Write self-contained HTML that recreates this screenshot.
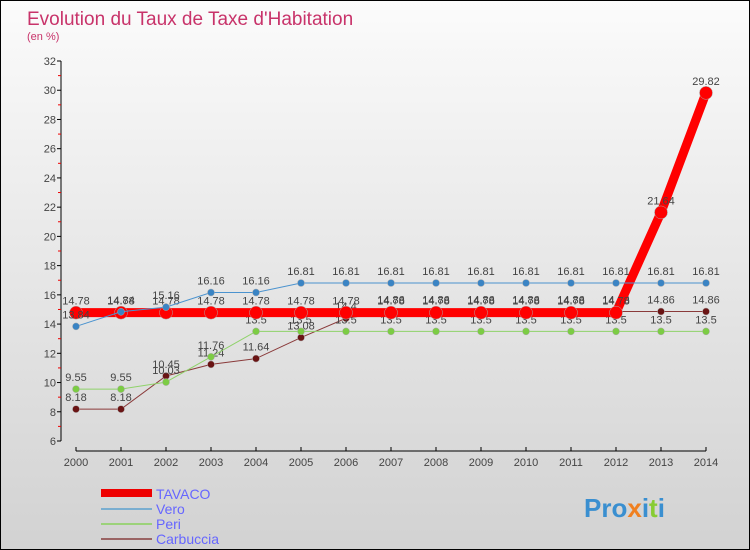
<!DOCTYPE html>
<html><head><meta charset="utf-8"><style>
body{margin:0}
#c{width:748px;height:548px;border:1px solid #000;background:linear-gradient(#fbfbfb,#d2d2d2);position:relative;overflow:hidden;font-family:"Liberation Sans",sans-serif}
</style></head><body>
<div id="c">
<svg id="s" width="748" height="548">
<text x="26" y="24" font-size="19" fill="#c8336a">Evolution du Taux de Taxe d'Habitation</text>
<text x="26" y="39" font-size="11" fill="#c8336a">(en %)</text>
<g id="axes"></g><g id="series"></g>
<g>
<rect x="100" y="488" width="51" height="8" fill="#e00"/>
<text x="155" y="498" font-size="14" fill="#66f">TAVACO</text>
<rect x="100" y="507" width="51" height="2" fill="#7aaed0"/>
<text x="155" y="513" font-size="14" fill="#66f">Vero</text>
<rect x="100" y="522" width="51" height="2" fill="#9cd27a"/>
<text x="155" y="528" font-size="14" fill="#66f">Peri</text>
<rect x="100" y="537" width="51" height="2" fill="#9a6464"/>
<text x="155" y="543" font-size="14" fill="#66f">Carbuccia</text>
</g>
<text x="583" y="516" font-size="26" font-weight="bold" fill="#3a8fd0">Pro<tspan fill="#f08020">x</tspan>i<tspan fill="#8c3">t</tspan>i</text>
</svg>
</div>
<script>
const years=[2000,2001,2002,2003,2004,2005,2006,2007,2008,2009,2010,2011,2012,2013,2014];
const tavaco=[14.78,14.78,14.78,14.78,14.78,14.78,14.78,14.78,14.78,14.78,14.78,14.78,14.78,21.64,29.82];
const vero=[13.84,14.84,15.16,16.16,16.16,16.81,16.81,16.81,16.81,16.81,16.81,16.81,16.81,16.81,16.81];
const peri=[9.55,9.55,10.03,11.76,13.5,13.5,13.5,13.5,13.5,13.5,13.5,13.5,13.5,13.5,13.5];
const carbuccia=[8.18,8.18,10.45,11.24,11.64,13.08,14.4,14.86,14.86,14.86,14.86,14.86,14.86,14.86,14.86];
const yTicks=[6,8,10,12,14,16,18,20,22,24,26,28,30,32];
const NS="http://www.w3.org/2000/svg";
const X=i=>75+i*45, Y=v=>440-(v-6)*(380/26);
function mk(t,a,p){const e=document.createElementNS(NS,t);for(const k in a)e.setAttribute(k,a[k]);p.appendChild(e);return e;}
const ax=document.getElementById('axes'), sg=document.getElementById('series');
let l=mk('line',{x1:60,y1:60,x2:60,y2:440,stroke:'#000'},ax);


l=mk('line',{x1:75,y1:450,x2:705,y2:450,stroke:'#000'},ax);


yTicks.forEach(v=>{
 mk('line',{x1:56,y1:Y(v),x2:60,y2:Y(v),stroke:'#000'},ax);
 if(v<32) mk('line',{x1:57,y1:Y(v+1),x2:60,y2:Y(v+1),stroke:'#e00'},ax);
 const t=mk('text',{x:55,y:Y(v)+4,'font-size':11,fill:'#444','text-anchor':'end'},ax);t.textContent=v;
 
 
});
years.forEach((y,i)=>{
 mk('line',{x1:X(i),y1:446,x2:X(i),y2:450,stroke:'#000'},ax);
 const t=mk('text',{x:X(i),y:465,'font-size':11,fill:'#444','text-anchor':'middle'},ax);t.textContent=y;
 
 
});
function draw(name,data,color,w,r,dot){
 const g=mk('g',{},sg);
 
 
 mk('polyline',{points:data.map((v,i)=>X(i)+','+Y(v)).join(' '),fill:'none',stroke:color,'stroke-width':w},g);
 data.forEach((v,i)=>{
  const c=mk('circle',{cx:X(i),cy:Y(v),r:r,fill:dot,stroke:'#aaa','stroke-width':0.5},g);
  
  
  const t=mk('text',{x:X(i),y:Y(v)-8,'font-size':11,fill:'#444','text-anchor':'middle'},g);t.textContent=v;
 });
}
draw('carbuccia',carbuccia,'#8a3a3a',1,3.5,'#6a1414');
draw('peri',peri,'#8fd26a',1,3.5,'#7ccc44');
draw('tavaco',tavaco,'#f00',9,6.5,'#f00');
draw('vero',vero,'#4b93cf',1,3.5,'#3a84c4');
</script>
</body></html>
